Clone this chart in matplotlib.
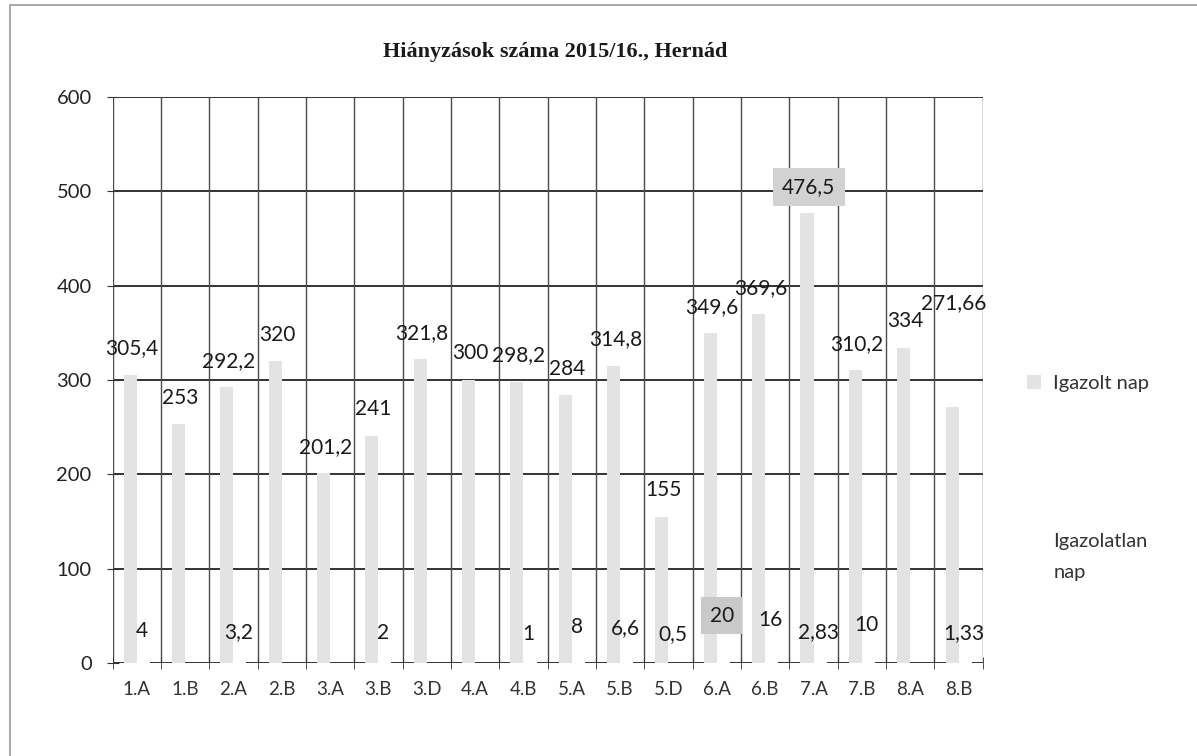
import numpy as np
import matplotlib
matplotlib.use("Agg")
import matplotlib.pyplot as plt
from matplotlib.patches import Rectangle

classes = ["1.A", "1.B", "2.A", "2.B", "3.A", "3.B", "3.D", "4.A", "4.B",
           "5.A", "5.B", "5.D", "6.A", "6.B", "7.A", "7.B", "8.A", "8.B"]
igazolt = [305.4, 253, 292.2, 320, 201.2, 241, 321.8, 300, 298.2,
           284, 314.8, 155, 349.6, 369.6, 476.5, 310.2, 334, 271.66]
igazolatlan = [4, 0, 3.2, 0, 0, 2, 0, 0, 1,
               8, 6.6, 0.5, 20, 16, 2.83, 10, 0, 1.33]
yticks = [0, 100, 200, 300, 400, 500, 600]


def fmt(v):
    s = ("%.2f" % v).rstrip("0").rstrip(".")
    return s.replace(".", ",")


def main():
    plt.rcParams['font.family'] = ['Lato', 'DejaVu Sans']
    fig = plt.figure(figsize=(11.97, 7.56), dpi=100)
    ax = fig.add_axes([0.094, 0.123, 0.727, 0.749])

    x = np.arange(len(classes))
    w = 0.27
    b1 = ax.bar(x - 0.135, igazolt, w, color="#e3e3e3", label="Igazolt nap", zorder=1)
    b2 = ax.bar(x + 0.135, igazolatlan, w, color="white", label="Igazolatlan\nnap", zorder=1)

    ax.set_xlim(-0.5, len(classes) - 0.5)
    ax.set_ylim(0, 600)
    ax.set_yticks(yticks)
    ax.set_xticks(x)
    ax.set_xticklabels(classes, fontsize=13.5, color="#333333")
    ax.set_xticks(np.arange(-0.5, len(classes)), minor=True)
    ax.tick_params(axis="x", which="major", length=0, pad=13)
    ax.tick_params(axis="x", which="minor", length=8, direction="inout", color="#333333")
    ax.tick_params(axis="y", length=8, direction="inout", labelsize=14.5,
                   color="#333333", labelcolor="#222222", pad=11)

    for y in yticks:
        ax.axhline(y, color="#333333", lw=1.4, zorder=0)
    for xb in np.arange(-0.5, len(classes)):
        ax.axvline(xb, color="#4a4a4a", lw=1.0, zorder=0)
    for s in ax.spines.values():
        s.set_visible(False)

    # data labels
    for i, v in enumerate(igazolt):
        off = 110 if classes[i] == "8.B" else 28
        box = None
        if classes[i] == "7.A":
            box = dict(boxstyle="square,pad=0.45", fc="#d2d2d2", ec="none")
        ax.text(x[i] - 0.1, v + off, fmt(v), ha="center", va="center",
                fontsize=15, color="#1a1a1a", bbox=box, zorder=3)
    for i, v in enumerate(igazolatlan):
        if v == 0:
            continue
        box = None
        if classes[i] == "6.A":
            box = dict(boxstyle="square,pad=0.4", fc="#c9c9c9", ec="none")
        ax.text(x[i] + 0.1, v + 30, fmt(v), ha="center", va="center",
                fontsize=15, color="#1a1a1a", bbox=box, zorder=3)

    fig.text(0.464, 0.931, "Hiányzások száma 2015/16., Hernád", ha="center",
             va="center", fontsize=16, fontweight="bold",
             family="Liberation Serif", color="#1a1a1a")

    leg = ax.legend(handles=[b1, b2], loc="upper left", bbox_to_anchor=(1.03, 0.54),
                    frameon=False, fontsize=14.5, labelspacing=7.0, handlelength=0.7,
                    handleheight=0.7, handletextpad=0.6, labelcolor="#333333")
    for t in leg.get_texts():
        t.set_linespacing(2.0)

    fig.patches.append(Rectangle((0.008, -0.01), 1.2, 1.003, transform=fig.transFigure,
                                 fill=False, ec="#9a9a9a", lw=1.2))

    fig.savefig("out.png", dpi=100)


main()
